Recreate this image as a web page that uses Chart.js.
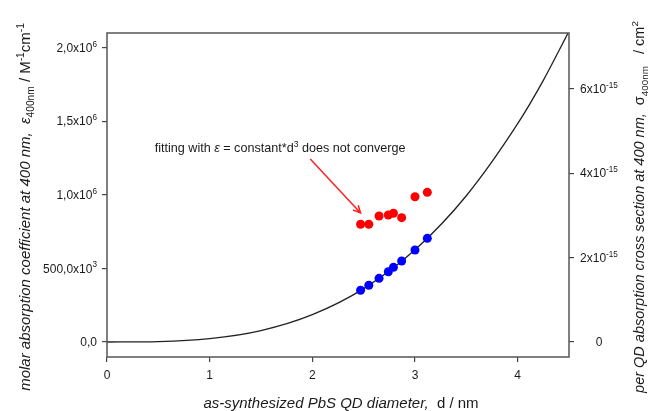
<!DOCTYPE html>
<html>
<head>
<meta charset="utf-8">
<script src="https://cdn.jsdelivr.net/npm/chart.js@4.4.0/dist/chart.umd.min.js"></script>
<style>
  html, body { margin: 0; padding: 0; background: #fff; }
  #wrap { width: 653px; height: 411px; }
</style>
</head>
<body>
<div id="wrap"><canvas id="chart" width="653" height="411"></canvas></div>
<script>
// values
const diameters = [2.47, 2.55, 2.65, 2.74, 2.79, 2.87, 3.00, 3.12];
const epsOnFit = [352e3, 386e3, 433e3, 478e3, 508e3, 551e3, 626e3, 705e3];
const epsNoFit = [801e3, 801e3, 857e3, 864e3, 876e3, 846e3, 988e3, 1018e3];
const fitDiameters = [0, 0.5, 1, 1.5, 2, 2.5, 3, 3.5, 4, 4.25, 4.5];
const fitEps = [0, 3e3, 23e3, 78e3, 186e3, 363e3, 627e3, 995e3, 1485e3, 1780e3, 2114e3];

const xTicks = [0, 1, 2, 3, 4];
const epsTicks = [0, 500e3, 1e6, 1.5e6, 2e6];
const epsTickLabels = [['0,0'], ['500,0x10', '3'], ['1,0x10', '6'], ['1,5x10', '6'], ['2,0x10', '6']];
const sigmaTicks = [0, 2e-15, 4e-15, 6e-15];
const sigmaTickLabels = [['0'], ['2x10', '-15'], ['4x10', '-15'], ['6x10', '-15']];

// annotation anchors (in data units)
const noteAt = { d: 0.465, eps: 1.293e6 };
const arrowFrom = { d: 1.98, eps: 1.245e6 };
const arrowTo = { d: 2.47, eps: 0.878e6 };

const FONT = '"Liberation Sans", Arial, sans-serif';

function runFont(r, size) {
    const s = (r.sup || r.sub) ? size * 0.68 : size;
    return (r.italic ? 'italic ' : '') + s.toFixed(1) + 'px ' + FONT;
}

function measureRuns(ctx, runs, size) {
    let w = 0;
    runs.forEach(r => {
        ctx.font = runFont(r, size);
        w += ctx.measureText(r.t).width;
    });
    return w;
}

// draw a line of text pieces (with sub/superscripts), y = baseline
function drawRuns(ctx, runs, x, y, size, align) {
    const total = measureRuns(ctx, runs, size);
    let cx = x;
    if (align === 'center') cx = x - total / 2;
    if (align === 'right') cx = x - total;
    ctx.textAlign = 'left';
    ctx.textBaseline = 'alphabetic';
    runs.forEach(r => {
        ctx.font = runFont(r, size);
        let dy = 0;
        if (r.sup) dy = -size * 0.42;
        if (r.sub) dy = size * 0.28;
        ctx.fillText(r.t, cx, y + dy);
        cx += ctx.measureText(r.t).width;
    });
}

function labelRuns(l) {
    const runs = [{ t: l[0] }];
    if (l[1]) runs.push({ t: l[1], sup: true });
    return runs;
}

const decorPlugin = {
    id: 'decor',
    afterDraw(chart) {
        const ctx = chart.ctx;
        const a = chart.chartArea;
        const xs = chart.scales.x, ys = chart.scales.y, ys1 = chart.scales.y1;
        ctx.save();

        // frame
        ctx.strokeStyle = '#555';
        ctx.lineWidth = 1.5;
        ctx.strokeRect(a.left, a.top, a.right - a.left, a.bottom - a.top);

        ctx.fillStyle = '#1a1a1a';
        // tick labels
        xTicks.forEach(v => drawRuns(ctx, [{ t: String(v) }], xs.getPixelForValue(v), a.bottom + 22, 12, 'center'));
        epsTicks.forEach((v, i) => drawRuns(ctx, labelRuns(epsTickLabels[i]), a.left - 10, ys.getPixelForValue(v) + 4, 12, 'right'));
        sigmaTicks.forEach((v, i) => drawRuns(ctx, labelRuns(sigmaTickLabels[i]), a.right + 30, ys1.getPixelForValue(v) + 4, 12, 'center'));

        // x title
        drawRuns(ctx, [
            { t: 'as-synthesized PbS QD diameter,  ', italic: true },
            { t: 'd / nm' }
        ], 341, 408, 15, 'center');

        // left title
        ctx.save();
        ctx.translate(25, 207);
        ctx.rotate(-Math.PI / 2);
        drawRuns(ctx, [
            { t: 'molar absorption coefficient at 400 nm,  ', italic: true },
            { t: 'ε', italic: true },
            { t: '400nm', sub: true },
            { t: ' / M' },
            { t: '-1', sup: true },
            { t: 'cm' },
            { t: '-1', sup: true }
        ], 0, 5, 15, 'center');
        ctx.restore();

        // right title
        ctx.save();
        ctx.translate(639, 207);
        ctx.rotate(-Math.PI / 2);
        drawRuns(ctx, [
            { t: 'per QD absorption cross section at 400 nm,  ', italic: true },
            { t: 'σ' },
            { t: '400nm', sub: true },
            { t: '   / cm' },
            { t: '2', sup: true }
        ], 0, 5, 14.5, 'center');
        ctx.restore();

        // annotation
        drawRuns(ctx, [
            { t: 'fitting with ' },
            { t: 'ε', italic: true },
            { t: ' = constant*d' },
            { t: '3', sup: true },
            { t: ' does not converge' }
        ], xs.getPixelForValue(noteAt.d), ys.getPixelForValue(noteAt.eps), 12.6, 'left');

        const x1 = xs.getPixelForValue(arrowFrom.d), y1 = ys.getPixelForValue(arrowFrom.eps);
        const x2 = xs.getPixelForValue(arrowTo.d), y2 = ys.getPixelForValue(arrowTo.eps);
        ctx.strokeStyle = '#ff2020';
        ctx.lineWidth = 1.5;
        ctx.beginPath();
        ctx.moveTo(x1, y1);
        ctx.lineTo(x2, y2);
        const ang = Math.atan2(y2 - y1, x2 - x1);
        const hl = 8;
        ctx.moveTo(x2 - hl * Math.cos(ang - 0.45), y2 - hl * Math.sin(ang - 0.45));
        ctx.lineTo(x2, y2);
        ctx.lineTo(x2 - hl * Math.cos(ang + 0.45), y2 - hl * Math.sin(ang + 0.45));
        ctx.stroke();

        ctx.restore();
    }
};

const tickGrid = {
    display: true,
    drawOnChartArea: false,
    drawTicks: true,
    tickLength: 5,
    color: '#444',
    lineWidth: 1.2
};

const ctx = document.getElementById('chart').getContext('2d');
new Chart(ctx, {
    type: 'scatter',
    data: {
        datasets: [
            {
                label: 'no fit',
                data: diameters.map((d, i) => ({ x: d, y: epsNoFit[i] })),
                backgroundColor: '#ff0000',
                borderColor: '#ff0000',
                borderWidth: 0,
                pointRadius: 4.5,
                order: 1
            },
            {
                label: 'fit',
                data: diameters.map((d, i) => ({ x: d, y: epsOnFit[i] })),
                backgroundColor: '#0000ff',
                borderColor: '#0000ff',
                borderWidth: 0,
                pointRadius: 4.5,
                order: 1
            },
            {
                type: 'line',
                label: 'eps = c*d^3',
                data: fitDiameters.map((d, i) => ({ x: d, y: fitEps[i] })),
                borderColor: '#222',
                borderWidth: 1.3,
                pointRadius: 0,
                cubicInterpolationMode: 'monotone',
                fill: false,
                order: 2
            }
        ]
    },
    options: {
        responsive: false,
        animation: false,
        layout: { padding: { top: 33, left: 0, right: 0, bottom: 0 } },
        plugins: {
            legend: { display: false },
            tooltip: { enabled: false }
        },
        scales: {
            x: {
                type: 'linear',
                min: 0,
                max: 4.5,
                border: { display: false },
                grid: tickGrid,
                ticks: { display: false },
                afterBuildTicks: s => { s.ticks = xTicks.map(v => ({ value: v })); },
                afterFit: s => { s.height = 54; }
            },
            y: {
                position: 'left',
                min: -0.102e6,
                max: 2.102e6,
                border: { display: false },
                grid: tickGrid,
                ticks: { display: false },
                afterBuildTicks: s => { s.ticks = epsTicks.map(v => ({ value: v })); },
                afterFit: s => { s.width = 107; }
            },
            y1: {
                position: 'right',
                min: -0.356e-15,
                max: 7.33e-15,
                border: { display: false },
                grid: tickGrid,
                ticks: { display: false },
                afterBuildTicks: s => { s.ticks = sigmaTicks.map(v => ({ value: v })); },
                afterFit: s => { s.width = 84; }
            }
        }
    },
    plugins: [decorPlugin]
});
</script>
</body>
</html>
